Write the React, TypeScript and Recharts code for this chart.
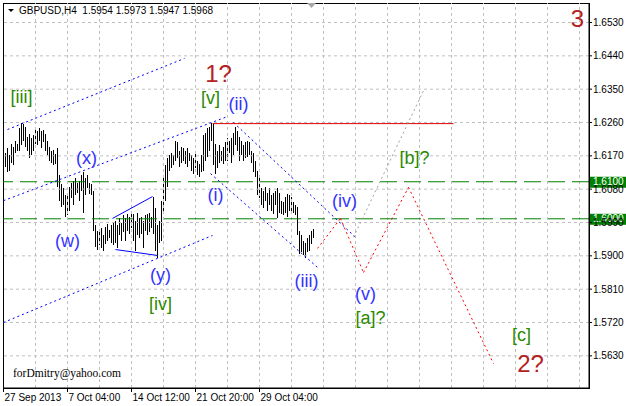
import React from "react";
import { ComposedChart, Bar, XAxis, YAxis, ReferenceLine, ReferenceArea, ReferenceDot } from "recharts";

const W = 626;
const H = 406;
const FONT = "Liberation Sans, Arial, sans-serif";

// GBPUSD H4 bars, first bar = index 1 (27 Sep 2013 20:00 is index 0 on the axis)
const highs = [
  1.6179, 1.6190, 1.6171, 1.6201, 1.6195, 1.6209, 1.6203, 1.6244, 1.6260, 1.6255,
  1.6247, 1.6222, 1.6230, 1.6217, 1.6225, 1.6249, 1.6238, 1.6244, 1.6238, 1.6241,
  1.6230, 1.6211, 1.6193, 1.6184, 1.6187, 1.6176, 1.6190, 1.6117, 1.6095, 1.6082,
  1.6063, 1.6071, 1.6087, 1.6098, 1.6103, 1.6109, 1.6098, 1.6103, 1.6117, 1.6125,
  1.6109, 1.6117, 1.6098, 1.6095, 1.6076, 1.5982, 1.5968, 1.5963, 1.5974, 1.5955,
  1.5979, 1.5985, 1.5971, 1.5982, 1.5990, 1.5995, 1.5982, 1.6001, 1.5990, 1.6009,
  1.6001, 1.6014, 1.6006, 1.6022, 1.6012, 1.5995, 1.6017, 1.6001, 1.6006, 1.5995,
  1.6009, 1.6012, 1.6017, 1.6006, 1.6060, 1.6028, 1.5982, 1.5995, 1.6049, 1.6109,
  1.6144, 1.6163, 1.6171, 1.6179, 1.6171, 1.6211, 1.6206, 1.6184, 1.6195, 1.6190,
  1.6184, 1.6190, 1.6179, 1.6171, 1.6163, 1.6184, 1.6157, 1.6149, 1.6171, 1.6225,
  1.6233, 1.6244, 1.6249, 1.6260, 1.6257, 1.6203, 1.6184, 1.6198, 1.6184, 1.6195,
  1.6206, 1.6217, 1.6211, 1.6217, 1.6233, 1.6247, 1.6238, 1.6220, 1.6211, 1.6198,
  1.6206, 1.6211, 1.6206, 1.6184, 1.6179, 1.6157, 1.6130, 1.6117, 1.6082, 1.6076,
  1.6085, 1.6071, 1.6082, 1.6063, 1.6071, 1.6076, 1.6082, 1.6071, 1.6049, 1.6044,
  1.6060, 1.6068, 1.6063, 1.6058, 1.6044, 1.6036, 1.6031, 1.5968, 1.5955, 1.5941,
  1.5936, 1.5947, 1.5955, 1.5968, 1.5973,
];
const lows = [
  1.6139, 1.6125, 1.6130, 1.6152, 1.6144, 1.6179, 1.6184, 1.6184, 1.6198, 1.6211,
  1.6193, 1.6184, 1.6163, 1.6171, 1.6184, 1.6203, 1.6198, 1.6211, 1.6190, 1.6206,
  1.6184, 1.6171, 1.6157, 1.6152, 1.6144, 1.6149, 1.6085, 1.6049, 1.6031, 1.6036,
  1.6004, 1.6009, 1.6022, 1.6055, 1.6036, 1.6063, 1.6071, 1.6049, 1.6076, 1.6017,
  1.6063, 1.6082, 1.6066, 1.6063, 1.5968, 1.5923, 1.5917, 1.5928, 1.5920, 1.5914,
  1.5933, 1.5941, 1.5947, 1.5936, 1.5928, 1.5936, 1.5920, 1.5955, 1.5941, 1.5963,
  1.5941, 1.5968, 1.5958, 1.5974, 1.5941, 1.5914, 1.5955, 1.5947, 1.5960, 1.5920,
  1.5968, 1.5955, 1.5963, 1.5974, 1.5960, 1.5914, 1.5893, 1.5936, 1.5941, 1.6017,
  1.6049, 1.6085, 1.6130, 1.6136, 1.6144, 1.6157, 1.6163, 1.6141, 1.6152, 1.6157,
  1.6149, 1.6139, 1.6157, 1.6130, 1.6122, 1.6136, 1.6117, 1.6112, 1.6125, 1.6130,
  1.6157, 1.6166, 1.6184, 1.6211, 1.6144, 1.6122, 1.6136, 1.6152, 1.6157, 1.6149,
  1.6157, 1.6157, 1.6179, 1.6152, 1.6171, 1.6198, 1.6184, 1.6157, 1.6171, 1.6157,
  1.6163, 1.6166, 1.6171, 1.6152, 1.6125, 1.6112, 1.6063, 1.6055, 1.6036, 1.6028,
  1.6049, 1.6022, 1.6036, 1.6022, 1.6014, 1.6036, 1.6001, 1.6017, 1.6014, 1.6009,
  1.6017, 1.6004, 1.6022, 1.6014, 1.6017, 1.6009, 1.5955, 1.5906, 1.5909, 1.5901,
  1.5893, 1.5909, 1.5914, 1.5931, 1.5947,
];

const priceTicks = [1.563, 1.572, 1.581, 1.59, 1.599, 1.608, 1.617, 1.626, 1.635, 1.644, 1.653];
const timeTicks = [0, 32, 64, 96, 128];
const timeLabels = ["27 Sep 2013", "7 Oct 04:00", "14 Oct 12:00", "21 Oct 20:00", "29 Oct 04:00"];
const gridBars = [16, 32, 48, 64, 80, 96, 112, 128, 144, 160, 176, 192, 208, 224, 240, 256, 272, 288];
const levelPrices = [1.61, 1.6];

// [bar1, price1, bar2, price2]
const channelLines = [
  [2, 1.6241, 90.5, 1.6433],
  [0, 1.6049, 111, 1.6274],
  [0, 1.572, 104.5, 1.5955],
  [115, 1.626, 176, 1.595],
  [103.5, 1.6122, 157, 1.5869],
];
const triangleLines = [
  [54.5, 1.6001, 74.5, 1.606],
  [56, 1.5917, 77, 1.5901],
];
const resistance = [104.5, 1.6257, 225, 1.6257];
const grayPath = [175, 1.595, 210, 1.6346];
const redPathBars = [157, 168.5, 180, 202.5, 245];
const redPathPrices = [1.592, 1.6001, 1.5855, 1.6085, 1.5609];

const labelTexts = ["[iii]", "(x)", "(w)", "(y)", "[iv]", "1?", "[v]", "(ii)", "(i)", "(iii)", "(iv)", "(v)", "[a]?", "[b]?", "[c]", "2?", "3"];
const labelBars = [9, 41.5, 32, 78.5, 78.5, 107.5, 103.5, 117.5, 106, 151.5, 170.5, 181, 183.5, 205.5, 259, 263.5, 287];
const labelPrices = [1.6328, 1.6163, 1.5941, 1.5847, 1.5769, 1.6392, 1.6325, 1.6309, 1.6063, 1.5833, 1.6049, 1.5796, 1.5731, 1.6163, 1.5685, 1.5609, 1.6541];
const labelKinds = ["green", "blue", "blue", "blue", "green", "red", "green", "blue", "blue", "blue", "blue", "blue", "green", "green", "green", "red", "red"];

const labelStyle: Record<string, { fill: string; size: number }> = {
  blue: { fill: "#3333ff", size: 18 },
  green: { fill: "#2a8a00", size: 18 },
  red: { fill: "#b22222", size: 24 },
};

const xDomain = [-0.25, 292.75];
const yDomain = [1.554315, 1.658265];

const HLBar = (props: any) => {
  const { x, y, width, height } = props;
  if (x == null || y == null) return null;
  const top = Math.round(Math.min(y, y + height));
  const bottom = Math.round(Math.max(y, y + height));
  return <rect x={Math.round(x + width / 2 - 0.4)} y={top} width={1} height={Math.max(1, bottom - top)} fill="#000" />;
};

const TimeTick = (props: any) => {
  const { x, y, payload } = props;
  const idx = timeTicks.indexOf(payload.value);
  return (
    <text x={x + 1} y={y} dy="0.71em" fontSize={10} fontFamily={FONT} fill="#000" textAnchor="start">
      {timeLabels[idx]}
    </text>
  );
};

const LevelTag = ({ viewBox, text }: any) => {
  if (!viewBox) return null;
  const x = viewBox.x + viewBox.width + 1;
  const y = viewBox.y;
  return (
    <g>
      <rect x={x} y={y - 5} width={37} height={11} fill="#008000" />
      <text x={x + 3} y={y} dy="0.355em" fontSize={10} fontFamily={FONT} fill="#fff">
        {text}
      </text>
    </g>
  );
};

export default function App() {
  const bars = highs.map((h, k) => ({ i: k + 1, range: [lows[k], h] }));

  return (
    <div style={{ position: "absolute", left: 0, top: 0, width: W, height: H, background: "#fff" }}>
      <ComposedChart width={W} height={H} data={bars} margin={{ top: 3, right: 0, bottom: 0, left: 3 }}>
        <XAxis
          dataKey="i"
          type="number"
          domain={xDomain}
          allowDataOverflow
          ticks={timeTicks}
          interval={0}
          tick={<TimeTick />}
          tickSize={4}
          tickMargin={2}
          height={18}
          axisLine={{ stroke: "#000" }}
          tickLine={{ stroke: "#000" }}
        />
        <YAxis
          orientation="right"
          type="number"
          domain={yDomain}
          allowDataOverflow
          ticks={priceTicks}
          interval={0}
          width={37}
          tickSize={3}
          tickMargin={1}
          tick={{ fontSize: 10, fill: "#000", fontFamily: FONT }}
          tickFormatter={(v: number) => v.toFixed(4)}
          axisLine={{ stroke: "#000" }}
          tickLine={{ stroke: "#000" }}
        />

        {priceTicks.map((p) => (
          <ReferenceLine key={"gh" + p} y={p} stroke="#c0c0c0" strokeDasharray="3 3" />
        ))}
        {gridBars.map((b) => (
          <ReferenceLine key={"gv" + b} x={b} stroke="#c0c0c0" strokeDasharray="3 3" />
        ))}

        {levelPrices.map((p) => (
          <ReferenceLine
            key={"lv" + p}
            y={p}
            stroke="#008000"
            strokeDasharray="17 7"
            label={(lp: any) => <LevelTag viewBox={lp.viewBox} text={p.toFixed(4)} />}
          />
        ))}

        <Bar dataKey="range" barSize={1} shape={<HLBar />} isAnimationActive={false} />

        {channelLines.map((l, k) => (
          <ReferenceLine
            key={"ch" + k}
            segment={[{ x: l[0], y: l[1] }, { x: l[2], y: l[3] }]}
            stroke="#0000ff"
            strokeDasharray="2 3"
          />
        ))}
        {triangleLines.map((l, k) => (
          <ReferenceLine
            key={"tr" + k}
            segment={[{ x: l[0], y: l[1] }, { x: l[2], y: l[3] }]}
            stroke="#0000ff"
          />
        ))}
        <ReferenceLine
          segment={[{ x: resistance[0], y: resistance[1] }, { x: resistance[2], y: resistance[3] }]}
          stroke="#e00000"
        />
        <ReferenceLine
          segment={[{ x: grayPath[0], y: grayPath[1] }, { x: grayPath[2], y: grayPath[3] }]}
          stroke="#a0a0a0"
          strokeDasharray="2 3"
        />
        {redPathBars.slice(1).map((b, k) => (
          <ReferenceLine
            key={"rp" + k}
            segment={[
              { x: redPathBars[k], y: redPathPrices[k] },
              { x: b, y: redPathPrices[k + 1] },
            ]}
            stroke="#ff0000"
            strokeDasharray="2 3"
          />
        ))}

        {labelTexts.map((t, k) => {
          const st = labelStyle[labelKinds[k]];
          return (
            <ReferenceDot
              key={"lb" + k}
              x={labelBars[k]}
              y={labelPrices[k]}
              r={0}
              shape={(p: any) => (
                <text
                  x={p.cx}
                  y={p.cy}
                  textAnchor="middle"
                  dominantBaseline="central"
                  fontSize={st.size}
                  fontFamily={FONT}
                  fill={st.fill}
                >
                  {t}
                </text>
              )}
            />
          );
        })}

        <ReferenceArea
          x1={xDomain[0]}
          x2={xDomain[1]}
          y1={yDomain[0]}
          y2={yDomain[1]}
          fill="none"
          stroke="#000"
          strokeOpacity={1}
          shapeRendering="crispEdges"
        />
      </ComposedChart>

      <svg width={W} height={H} style={{ position: "absolute", left: 0, top: 0, pointerEvents: "none" }}>
        <polygon points="8,9 14,9 11,12" fill="#000" />
        <text x={19} y={14} fontSize={10} fontFamily={FONT} fill="#000" style={{ whiteSpace: "pre" }}>
          {"GBPUSD,H4  1.5954 1.5973 1.5947 1.5968"}
        </text>
        <polygon points="307,3 316,3 311.5,8" fill="#a8a8a8" />
        <text x={13} y={377} fontSize={11.5} fontFamily="Liberation Serif, Times New Roman, serif" fill="#000">
          forDmitry@yahoo.com
        </text>
      </svg>
    </div>
  );
}
